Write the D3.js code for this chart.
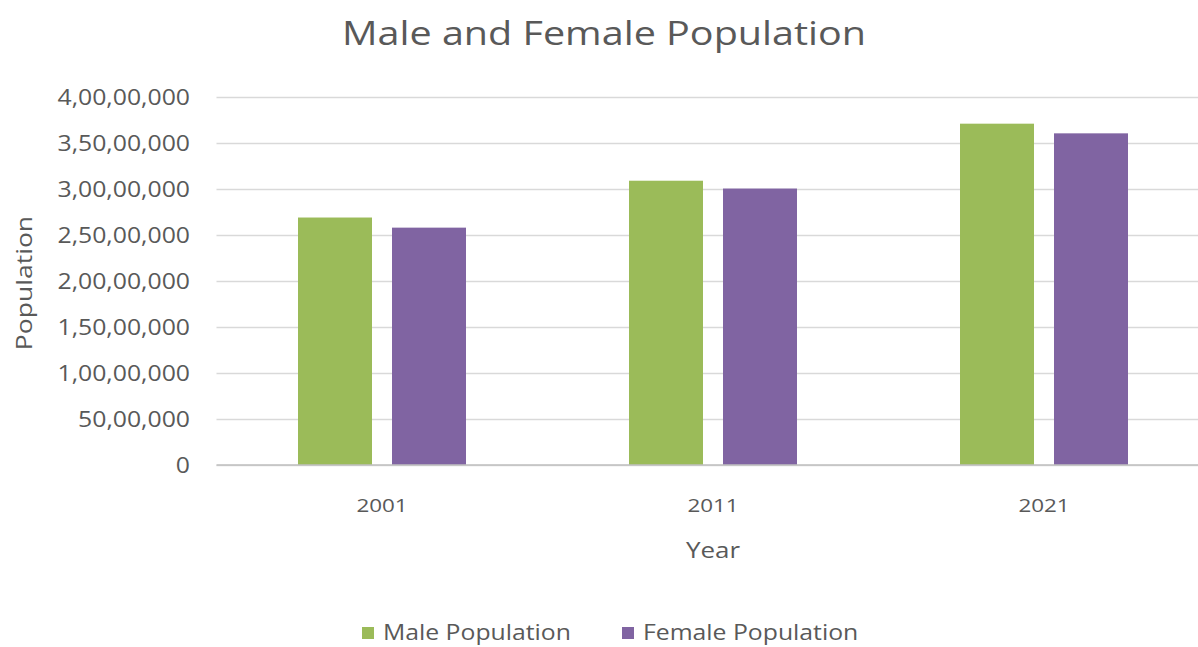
<!DOCTYPE html>
<html>
<head>
<meta charset="utf-8">
<script src="https://cdn.jsdelivr.net/npm/d3@7"></script>
<style>
  html, body { margin: 0; padding: 0; background: #fff; }
  svg { display: block; }
  text { font-family: "Open Sans", "Noto Sans", sans-serif; fill: #595959; }
</style>
</head>
<body>
<svg id="chart" width="1198" height="647"></svg>
<script>
const categories = ["2001", "2011", "2021"];
const seriesNames = ["Male Population", "Female Population"];
const maleValues = [26900000, 30900000, 37100000];
const femaleValues = [25800000, 30050000, 36050000];
const yTickValues = [0, 5000000, 10000000, 15000000, 20000000, 25000000, 30000000, 35000000, 40000000];
const yTickLabels = ["0", "50,00,000", "1,00,00,000", "1,50,00,000", "2,00,00,000", "2,50,00,000", "3,00,00,000", "3,50,00,000", "4,00,00,000"];
const colors = ["#9BBB59", "#8064A2"];

const data = categories.map((c, i) => ({ cat: c, values: [maleValues[i], femaleValues[i]] }));

const svg = d3.select("#chart");
const SX = 1.18; // horizontal stretch of text to match reference

const plot = { left: 216.5, right: 1209.5, top: 97, bottom: 465 };

const x0 = d3.scaleBand().domain(categories).range([plot.left, plot.right]).paddingInner(0).paddingOuter(0);
const groupPad = (x0.bandwidth() - 168) / 2;
const x1 = d3.scaleBand().domain(seriesNames).range([groupPad, x0.bandwidth() - groupPad]).paddingInner(20 / 94).paddingOuter(0);
const y = d3.scaleLinear().domain([0, 40000000]).range([plot.bottom, plot.top]);

function stretchedText(g, x, yy, txt, size, anchor, rotate) {
  return g.append("text")
    .attr("transform", `translate(${x},${yy})` + (rotate ? ` rotate(${rotate})` : "") + ` scale(${SX},1)`)
    .attr("text-anchor", anchor)
    .style("font-size", size + "px")
    .text(txt);
}

// gridlines
const yAxis = d3.axisLeft(y).tickValues(yTickValues)
  .tickSize(-(plot.right - plot.left)).tickFormat("");
const ga = svg.append("g").attr("transform", `translate(${plot.left},0)`).call(yAxis);
ga.select(".domain").remove();
ga.selectAll(".tick line").attr("stroke", "#D9D9D9").attr("stroke-width", 1.3);

// tick labels
const labG = svg.append("g");
yTickValues.forEach((v, i) => {
  stretchedText(labG, 190, y(v) + 7.5, yTickLabels[i], 21, "end");
});

// bars
const groups = svg.append("g").selectAll("g").data(data).join("g")
  .attr("transform", d => `translate(${x0(d.cat)},0)`);
groups.selectAll("rect").data(d => d.values.map((v, i) => ({ key: seriesNames[i], v, i })))
  .join("rect")
  .attr("x", d => x1(d.key))
  .attr("width", x1.bandwidth())
  .attr("y", d => y(d.v))
  .attr("height", d => y(0) - y(d.v))
  .attr("fill", d => colors[d.i]);

// baseline
svg.append("line").attr("x1", plot.left).attr("x2", plot.right)
  .attr("y1", y(0)).attr("y2", y(0)).attr("stroke", "#BFBFBF").attr("stroke-width", 1.3);

// x tick labels
const xl = svg.append("g");
categories.forEach(c => {
  stretchedText(xl, x0(c) + x0.bandwidth() / 2, 512, c, 19, "middle");
});

// axis titles
stretchedText(svg, x0("2011") + x0.bandwidth() / 2, 558, "Year", 22, "middle");
stretchedText(svg, 32, 283, "Population", 22.5, "middle", -90);

// title
stretchedText(svg, 604, 45, "Male and Female Population", 33.5, "middle");

// legend
const legend = svg.append("g");
const legendItems = [{ name: seriesNames[0], x: 362 }, { name: seriesNames[1], x: 622 }];
legendItems.forEach((it, i) => {
  legend.append("rect").attr("x", it.x).attr("y", 627).attr("width", 12).attr("height", 12).attr("fill", colors[i]);
  stretchedText(legend, it.x + 21, 640, it.name, 21, "start");
});
</script>
</body>
</html>
